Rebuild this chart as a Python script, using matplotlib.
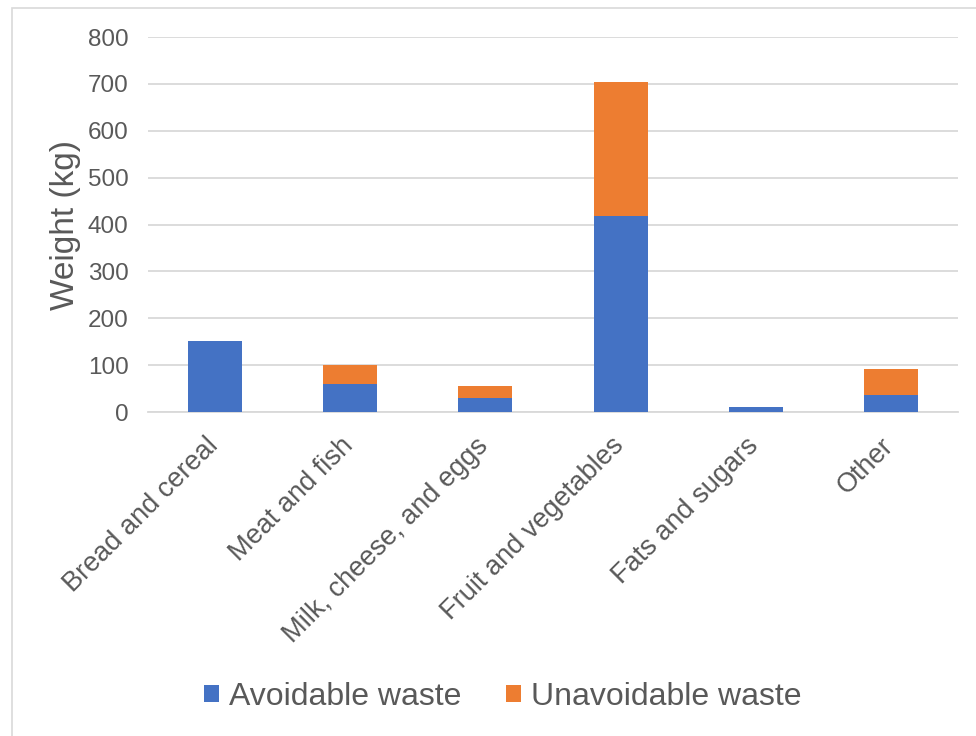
import numpy as np
import matplotlib.pyplot as plt
from matplotlib.patches import Rectangle
from matplotlib.transforms import ScaledTranslation

categorias = ['Bread and cereal', 'Meat and fish', 'Milk, cheese, and eggs',
              'Fruit and vegetables', 'Fats and sugars', 'Other']
evitable = [152, 60, 30, 418, 10, 37]
inevitable = [0, 40, 25, 285, 0, 54]

plt.rcParams['font.family'] = ['Liberation Sans', 'DejaVu Sans']

fig = plt.figure(figsize=(9.76, 7.36), dpi=100)
ax = fig.add_axes([0.1516, 0.4402, 0.83, 0.5095])

x = np.arange(len(categorias))
ax.bar(x, evitable, 0.4, color='#4472C4', label='Avoidable waste', zorder=3)
ax.bar(x, inevitable, 0.4, bottom=evitable, color='#ED7D31',
       label='Unavoidable waste', zorder=3)

ax.set_xlim(-0.5, len(categorias) - 0.5)
ax.set_ylim(0, 800)
ax.set_yticks(np.arange(0, 801, 100))
ax.grid(axis='y', color='#d9d9d9', linewidth=1.3, zorder=0)
for s in ['top', 'right', 'left']:
    ax.spines[s].set_visible(False)
ax.spines['bottom'].set_color('#d9d9d9')
ax.spines['bottom'].set_linewidth(1.3)
ax.tick_params(length=0, colors='#595959')
ax.tick_params(axis='y', pad=14, labelsize=17.5)
ax.tick_params(axis='x', pad=15, labelsize=19.5)
ax.set_xticks(x)
ax.set_xticklabels(categorias, rotation=45, ha='right', rotation_mode='anchor')
# desplazar un poco las etiquetas a la izquierda
desp = ScaledTranslation(-10/100, 0, fig.dpi_scale_trans)
for lab in ax.get_xticklabels():
    lab.set_transform(lab.get_transform() + desp)
ax.set_ylabel('Weight (kg)', fontsize=24, color='#595959', labelpad=5)

fig.legend(loc='center', bbox_to_anchor=(0.515, 0.053), ncol=2, frameon=False,
           fontsize=23, labelcolor='#595959', handlelength=0.47, handleheight=0.47,
           columnspacing=1.4, handletextpad=0.3)

# marco gris
fig.patches.append(Rectangle((12/976, -0.1), 1.2, 0.1 + 1 - 8/736,
                             transform=fig.transFigure, fill=False,
                             edgecolor='#d9d9d9', linewidth=1.2))

plt.savefig('out.png', dpi=100)
